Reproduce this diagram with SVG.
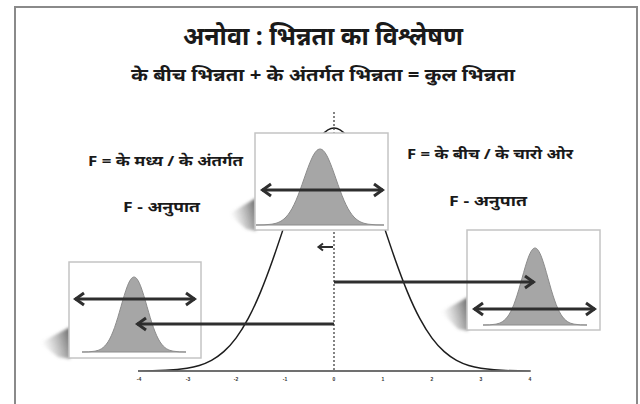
<svg xmlns="http://www.w3.org/2000/svg" xmlns:xlink="http://www.w3.org/1999/xlink" width="640" height="404" viewBox="0 0 640 404">
<style>
.t{font-family:'Noto Sans','Noto Sans Devanagari','Liberation Sans',sans-serif;font-weight:bold;fill:#1a1a1a}
.box{fill:#fff;stroke:#c4c4c4;stroke-width:1.5}
.bellfill{fill:#a6a6a6;stroke:#8c8c8c;stroke-width:1}
.arr{stroke:#2e2e2e;stroke-width:3;fill:none}
.tick{font-family:'Liberation Sans',sans-serif;font-weight:bold;font-size:5px;fill:#333;text-anchor:middle}
</style>
<defs>
<path id="bell" vector-effect="non-scaling-stroke" d="M-40,0 C-36.667,0 -33.333,-0.1 -30,-1.11 C-29.167,-1.39 -28.333,-1.76 -27.5,-2.28 C-26.667,-2.80 -25.833,-3.48 -25,-4.39 C-24.167,-5.31 -23.333,-6.47 -22.5,-7.96 C-21.667,-9.45 -20.833,-11.27 -20,-13.53 C-19.167,-15.79 -18.333,-18.48 -17.5,-21.63 C-16.667,-24.78 -15.833,-28.41 -15,-32.47 C-14.167,-36.53 -13.333,-41.01 -12.5,-45.78 C-11.667,-50.55 -10.833,-55.60 -10,-60.65 C-9.167,-65.70 -8.333,-70.76 -7.5,-75.48 C-6.667,-80.20 -5.833,-84.57 -5,-88.25 C-4.167,-91.93 -3.333,-94.90 -2.5,-96.92 C-1.667,-98.94 -0.833,-100 0,-100 C0.833,-100 1.667,-98.94 2.5,-96.92 C3.333,-94.90 4.167,-91.93 5,-88.25 C5.833,-84.57 6.667,-80.20 7.5,-75.48 C8.333,-70.76 9.167,-65.70 10,-60.65 C10.833,-55.60 11.667,-50.55 12.5,-45.78 C13.333,-41.01 14.167,-36.53 15,-32.47 C15.833,-28.41 16.667,-24.78 17.5,-21.63 C18.333,-18.48 19.167,-15.79 20,-13.53 C20.833,-11.27 21.667,-9.45 22.5,-7.96 C23.333,-6.47 24.167,-5.31 25,-4.39 C25.833,-3.48 26.667,-2.80 27.5,-2.28 C28.333,-1.76 29.167,-1.39 30,-1.11 C33.333,-0.1 36.667,0 40,0 Z"/>
<marker id="ah" markerUnits="userSpaceOnUse" viewBox="-12 -8 14 16" refX="0" refY="0" markerWidth="14" markerHeight="16" orient="auto-start-reverse">
<path d="M-9,-6 L-0.5,0 L-9,6" fill="none" stroke="#2e2e2e" stroke-width="3" stroke-linejoin="miter"/>
</marker>
<marker id="ahs" markerUnits="userSpaceOnUse" viewBox="-8 -5 10 10" refX="0" refY="0" markerWidth="10" markerHeight="10" orient="auto-start-reverse">
<path d="M-5,-3.5 L-0.5,0 L-5,3.5" fill="none" stroke="#2e2e2e" stroke-width="2"/>
</marker>
<linearGradient id="sh" x1="1" y1="0" x2="0" y2="0.3">
<stop offset="0" stop-color="#555" stop-opacity="0.9"/>
<stop offset="1" stop-color="#888" stop-opacity="0"/>
</linearGradient>
<filter id="blur" x="-0.3" y="-0.3" width="1.6" height="1.6"><feGaussianBlur stdDeviation="1.5"/></filter>
</defs>

<rect x="15" y="7" width="622" height="420" fill="#fff" stroke="#8a8a8a" stroke-width="2"/>

<g id="title">
<text class="t" x="183" y="45" font-size="25" textLength="280" lengthAdjust="spacingAndGlyphs">अनोवा : भिन्नता का विश्लेषण</text>
<text class="t" x="131" y="81" font-size="17" textLength="384" lengthAdjust="spacingAndGlyphs">के बीच भिन्नता + के अंतर्गत भिन्नता = कुल भिन्नता</text>
</g>

<g id="label-left">
<text class="t" x="88" y="166" font-size="15" textLength="155" lengthAdjust="spacingAndGlyphs">F = के मध्य / के अंतर्गत</text>
<text class="t" x="123" y="212" font-size="15" textLength="77" lengthAdjust="spacingAndGlyphs">F - अनुपात</text>
</g>
<g id="label-right">
<text class="t" x="407" y="159" font-size="15" textLength="166" lengthAdjust="spacingAndGlyphs">F = के बीच / के चारो ओर</text>
<text class="t" x="449" y="206" font-size="15" textLength="78" lengthAdjust="spacingAndGlyphs">F - अनुपात</text>
</g>

<g id="distribution">
<use xlink:href="#bell" href="#bell" transform="translate(334,371) scale(4.9,2.43)" fill="none" stroke="#1e1e1e" stroke-width="1.5"/>
<line x1="138" y1="371" x2="531" y2="371" stroke="#7a7a7a" stroke-width="1.5"/>
<line x1="334" y1="112" x2="334" y2="370" stroke="#333" stroke-width="1.2" stroke-dasharray="2,2"/>
<text class="tick" x="139" y="381">-4</text>
<text class="tick" x="188" y="381">-3</text>
<text class="tick" x="236" y="381">-2</text>
<text class="tick" x="285" y="381">-1</text>
<text class="tick" x="334" y="381">0</text>
<text class="tick" x="383" y="381">1</text>
<text class="tick" x="432" y="381">2</text>
<text class="tick" x="481" y="381">3</text>
<text class="tick" x="530" y="381">4</text>
</g>

<g id="box-center">
<polygon points="256,198 229,214 246,229 256,231" fill="url(#sh)" filter="url(#blur)"/>
<rect class="box" x="255" y="133" width="133" height="97"/>
<use xlink:href="#bell" href="#bell" class="bellfill" transform="translate(320,225) scale(1.6,0.76)"/>
<line class="arr" x1="262" y1="190" x2="383" y2="190" marker-start="url(#ah)" marker-end="url(#ah)"/>
</g>

<g id="box-left">
<polygon points="70,327 40,343 58,357 70,359" fill="url(#sh)" filter="url(#blur)"/>
<rect class="box" x="69" y="262" width="132" height="96"/>
<use xlink:href="#bell" href="#bell" class="bellfill" transform="translate(134,352) scale(1.3,0.75)"/>
<line class="arr" x1="75" y1="299" x2="195" y2="299" marker-start="url(#ah)" marker-end="url(#ah)"/>
</g>

<g id="box-right">
<polygon points="468,297 441,312 458,329 468,331" fill="url(#sh)" filter="url(#blur)"/>
<rect class="box" x="467" y="230" width="133" height="100"/>
<use xlink:href="#bell" href="#bell" class="bellfill" transform="translate(535,325) scale(1.3,0.77)"/>
<line class="arr" x1="474" y1="309" x2="595" y2="309" marker-start="url(#ah)" marker-end="url(#ah)"/>
</g>

<g id="connectors">
<line class="arr" x1="334" y1="324" x2="137" y2="324" marker-end="url(#ah)"/>
<line class="arr" x1="334" y1="282" x2="534" y2="282" marker-end="url(#ah)"/>
<line x1="333" y1="247" x2="318" y2="247" stroke="#2e2e2e" stroke-width="2" marker-end="url(#ahs)"/>
</g>
</svg>
